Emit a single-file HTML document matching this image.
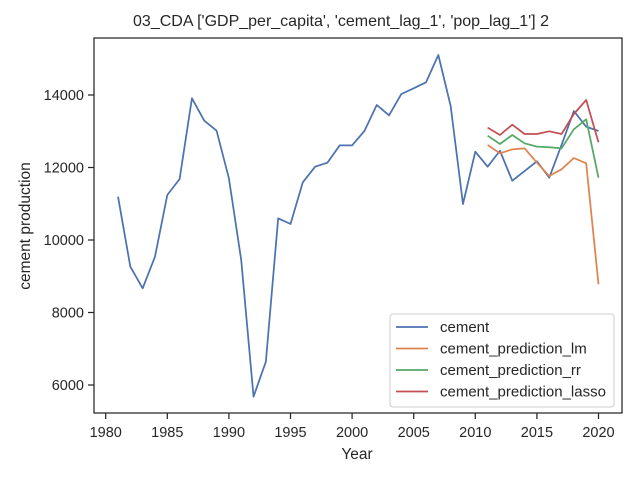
<!DOCTYPE html>
<html><head><meta charset="utf-8"><style>
body{margin:0;background:#fff}
text{font-family:"Liberation Sans","DejaVu Sans",sans-serif;fill:#262626}
</style></head><body>
<svg id="chart" width="640" height="480" viewBox="0 0 640 480" xmlns="http://www.w3.org/2000/svg">
<rect width="640" height="480" fill="#fff"/>
<text x="341" y="26" font-size="16" text-anchor="middle">03_CDA ['GDP_per_capita', 'cement_lag_1', 'pop_lag_1'] 2</text>
<g id="xticks"></g>
<g id="yticks"></g>
<g id="series"></g>
<rect x="94" y="38" width="528" height="375" fill="none" stroke="#262626" stroke-width="1.25"/>
<text x="357" y="459" font-size="15.5" text-anchor="middle">Year</text>
<text x="0" y="0" font-size="15.5" text-anchor="middle" transform="translate(30,226) rotate(-90)">cement production</text>
<g>
<rect x="390" y="314" width="224" height="93" rx="3" fill="#fff" fill-opacity="0.8" stroke="#ccc"/>
<g id="legend-items"></g>
</g>
</svg>
<script>
const cementYears=[1981,1982,1983,1984,1985,1986,1987,1988,1989,1990,1991,1992,1993,1994,1995,1996,1997,1998,1999,2000,2001,2002,2003,2004,2005,2006,2007,2008,2009,2010,2011,2012,2013,2014,2015,2016,2017,2018,2019,2020];
const cement=[11195,9263,8667,9540,11241,11683,13909,13292,13016,11701,9448,5678,6643,10598,10441,11592,12023,12133,12612,12612,13007,13724,13439,14028,14184,14350,15103,13697,10993,12436,12022,12462,11636,11903,12170,11720,12621,13559,13126,13007];
const predYears=[2011,2012,2013,2014,2015,2016,2017,2018,2019,2020];
const predLm=[12621,12391,12500,12529,12133,11766,11950,12262,12115,8778];
const predRr=[12878,12648,12897,12667,12575,12557,12529,13053,13329,11720];
const predLasso=[13099,12897,13182,12924,12924,12998,12924,13476,13862,12695];
const xTicks=[1980,1985,1990,1995,2000,2005,2010,2015,2020];
const yTicks=[6000,8000,10000,12000,14000];
const NS="http://www.w3.org/2000/svg";
const x=v=>105.7+(v-1980)*12.32;
const y=v=>385-(v-6000)*0.03625;
function mk(t,a,p){const e=document.createElementNS(NS,t);for(const k in a)e.setAttribute(k,a[k]);p.appendChild(e);return e;}
const xg=document.getElementById('xticks');
xTicks.forEach(t=>{
 const l=mk('line',{x1:x(t),x2:x(t),y1:413,y2:419,stroke:'#262626','stroke-width':1.25},xg);
 
 
 const tx=mk('text',{x:x(t),y:437,'font-size':14.5,'text-anchor':'middle'},xg);tx.textContent=t;
 
 
});
const yg=document.getElementById('yticks');
yTicks.forEach(t=>{
 const l=mk('line',{x1:88,x2:94,y1:y(t),y2:y(t),stroke:'#262626','stroke-width':1.25},yg);
 
 
 const tx=mk('text',{x:84,y:y(t)+5,'font-size':14.5,'text-anchor':'end'},yg);tx.textContent=t;
 
 
});
const sg=document.getElementById('series');
const series=[["cement",cementYears,cement,"#4c72b0"],["cement_prediction_lm",predYears,predLm,"#dd8452"],["cement_prediction_rr",predYears,predRr,"#55a868"],["cement_prediction_lasso",predYears,predLasso,"#c44e52"]];
const lg=document.getElementById('legend-items');
series.forEach((s,i)=>{
 const p=mk('polyline',{points:s[1].map((yr,j)=>x(yr)+','+y(s[2][j])).join(' '),fill:'none',stroke:s[3],'stroke-width':1.75,'stroke-linejoin':'round'},sg);
 
 
 const ly=327+i*21.5;
 const ll=mk('line',{x1:396,x2:428,y1:ly,y2:ly,stroke:s[3],'stroke-width':1.75},lg);
 
 
 const lt=mk('text',{x:440,y:ly+5,'font-size':15},lg);lt.textContent=s[0];
 
 
});
</script>
</body></html>
